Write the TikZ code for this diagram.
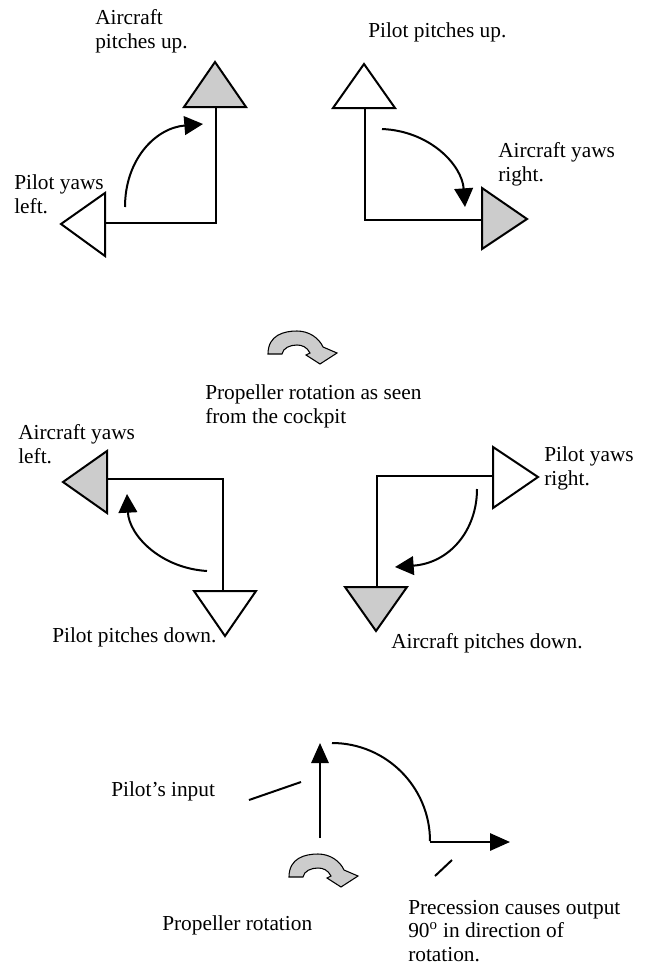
\documentclass[tikz,border=0pt]{standalone}
\usepackage{fontspec}
\setmainfont{Liberation Serif}
\usetikzlibrary{arrows.meta}
\definecolor{tgray}{RGB}{204,204,204}
\begin{document}
\begin{tikzpicture}[x=0.75pt,y=-0.75pt,
  line join=miter,
  lbl/.style={anchor=base west, inner sep=0pt, align=left, font=\fontsize{16pt}{17.6pt}\selectfont},
  grayt/.style={draw=black, line width=1.5pt, fill=tgray},
  whitet/.style={draw=black, line width=1.5pt, fill=white},
  conn/.style={draw=black, line width=1.5pt},
  curv/.style={draw=black, line width=1.5pt, -{Triangle[length=14pt,width=14pt]}},
  strarr/.style={draw=black, line width=1.5pt, -{Triangle[length=15pt,width=13pt]}},
  rotsym/.pic={
    \path[draw=black, line width=0.8pt, fill=tgray]
      (-29,-2) .. controls (-29,-21) and (-13,-25) .. (0,-25)
      .. controls (12,-25) and (22,-18) .. (26,-9)
      -- (40,-3) -- (23,8) -- (9,-1) -- (13,-3)
      .. controls (10,-9) and (5,-11) .. (0,-11)
      .. controls (-7,-11) and (-14,-8) .. (-15,-2) -- cycle;
  }
]
\useasboundingbox (0,0) rectangle (646,964);

% ---------- top-left ----------
\coordinate (tlA1) at (215,62);
\coordinate (tlA2) at (184,107);
\coordinate (tlA3) at (246,107);
\path[grayt] (tlA1) -- (tlA2) -- (tlA3) -- cycle;
\coordinate (tlB1) at (61,224);
\coordinate (tlB2) at (105,193);
\coordinate (tlB3) at (105,256);
\path[whitet] (tlB1) -- (tlB2) -- (tlB3) -- cycle;
\coordinate (tlTop) at (216,107);
\coordinate (tlCorner) at (216,223);
\coordinate (tlLeft) at (105,223);
\path[conn] (tlTop) -- (tlCorner) -- (tlLeft);
\coordinate (tlCs) at (125,207);
\coordinate (tlCe) at (203,124);
\path[curv] (tlCs) .. controls (125,160) and (155,128) .. (tlCe);
\node[lbl] (tlT1) at (95,48) {Aircraft\\pitches up.};
\node[lbl] (tlT2) at (14,213) {Pilot yaws\\left.};

% ---------- top-right ----------
\coordinate (trA1) at (364,64);
\coordinate (trA2) at (333,108);
\coordinate (trA3) at (395,108);
\path[whitet] (trA1) -- (trA2) -- (trA3) -- cycle;
\coordinate (trB1) at (527,219);
\coordinate (trB2) at (482,188);
\coordinate (trB3) at (482,249);
\path[grayt] (trB1) -- (trB2) -- (trB3) -- cycle;
\coordinate (trTop) at (365,108);
\coordinate (trCorner) at (365,220);
\coordinate (trRight) at (482,220);
\path[conn] (trTop) -- (trCorner) -- (trRight);
\coordinate (trCs) at (382,129);
\coordinate (trCe) at (465,207);
\path[curv] (trCs) .. controls (430,131) and (462,165) .. (trCe);
\node[lbl] (trT1) at (368,37) {Pilot pitches up.};
\node[lbl] (trT2) at (498,181) {Aircraft yaws\\right.};

% ---------- middle symbol ----------
\pic (rotA) at (297,356) {rotsym};
\node[lbl] (midT) at (205,423) {Propeller rotation as seen\\from the cockpit};

% ---------- middle-left ----------
\coordinate (mlA1) at (63,482);
\coordinate (mlA2) at (107,451);
\coordinate (mlA3) at (107,513);
\path[grayt] (mlA1) -- (mlA2) -- (mlA3) -- cycle;
\coordinate (mlB1) at (225,636);
\coordinate (mlB2) at (194,591);
\coordinate (mlB3) at (256,591);
\path[whitet] (mlB1) -- (mlB2) -- (mlB3) -- cycle;
\coordinate (mlLeft) at (107,479);
\coordinate (mlCorner) at (223,479);
\coordinate (mlBot) at (223,591);
\path[conn] (mlLeft) -- (mlCorner) -- (mlBot);
\coordinate (mlCs) at (207,571);
\coordinate (mlCe) at (127,494);
\path[curv] (mlCs) .. controls (160,568) and (129,535) .. (mlCe);
\node[lbl] (mlT1) at (18,463) {Aircraft yaws\\left.};
\node[lbl] (mlT2) at (52,642) {Pilot pitches down.};

% ---------- middle-right ----------
\coordinate (mrA1) at (538,477);
\coordinate (mrA2) at (493,447);
\coordinate (mrA3) at (493,508);
\path[whitet] (mrA1) -- (mrA2) -- (mrA3) -- cycle;
\coordinate (mrB1) at (376,631);
\coordinate (mrB2) at (345,587);
\coordinate (mrB3) at (407,587);
\path[grayt] (mrB1) -- (mrB2) -- (mrB3) -- cycle;
\coordinate (mrRight) at (493,476);
\coordinate (mrCorner) at (377,476);
\coordinate (mrBot) at (377,587);
\path[conn] (mrRight) -- (mrCorner) -- (mrBot);
\coordinate (mrCs) at (477,489);
\coordinate (mrCe) at (395,567);
\path[curv] (mrCs) .. controls (477,530) and (450,563) .. (mrCe);
\node[lbl] (mrT1) at (544,485) {Pilot yaws\\right.};
\node[lbl] (mrT2) at (391,648) {Aircraft pitches down.};

% ---------- bottom ----------
\coordinate (bInS) at (320,838);
\coordinate (bInE) at (320,743);
\path[strarr] (bInS) -- (bInE);
\coordinate (bArcS) at (332,743);
\coordinate (bArcE) at (430,841);
\path[conn] (bArcS) .. controls (386,743) and (430,787) .. (bArcE);
\coordinate (bOutS) at (430,842);
\coordinate (bOutE) at (510,842);
\path[strarr] (bOutS) -- (bOutE);
\node[lbl] (bT1) at (111,796) {Pilot’s input};
\coordinate (bP1a) at (249,800);
\coordinate (bP1b) at (301,782);
\path[conn] (bP1a) -- (bP1b);
\coordinate (bP2a) at (435,876);
\coordinate (bP2b) at (452,860);
\path[conn] (bP2a) -- (bP2b);
\pic (rotB) at (318,879) {rotsym};
\node[lbl] (bT2) at (162,930) {Propeller rotation};
\node[lbl] (bT3) at (408,961) {Precession causes output\\90\textsuperscript{o} in direction of\\rotation.};
\end{tikzpicture}
\end{document}
